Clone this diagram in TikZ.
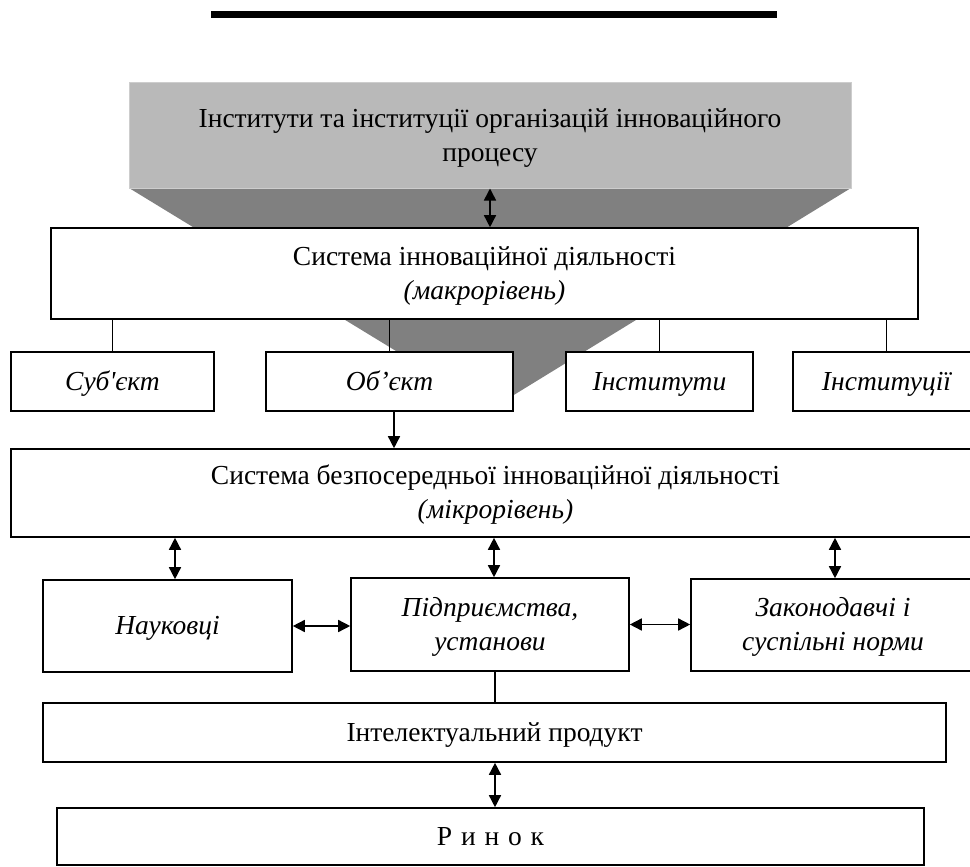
\documentclass[tikz,border=0pt]{standalone}
\usepackage{fontspec}
\newfontfamily\tnr{Liberation Serif}
\usetikzlibrary{arrows.meta,calc}
\definecolor{boxgray}{HTML}{B9B9B9}
\definecolor{boxedge}{HTML}{CDCDCD}
\definecolor{trigray}{HTML}{808080}
\newcommand{\sst}{\rule[-6pt]{0pt}{29pt}}
\begin{document}
\begin{tikzpicture}[x=1pt,y=-1pt,
  txt/.style={font=\tnr\fontsize{27.5}{34}\selectfont, align=center},
  bx/.style={txt, draw, line width=1.6pt, fill=white, inner sep=0pt},
  it/.style={font=\tnr\itshape\fontsize{27.5}{34}\selectfont},
  dbl/.style={{Triangle[length=12pt,width=12pt]}-{Triangle[length=12pt,width=12pt]}, line width=1.5pt},
  one/.style={-{Triangle[length=12pt,width=12pt]}, line width=1.5pt},
  ln/.style={line width=1.6pt}]
\clip (0,0) rectangle (970,867);
% top bar
\fill[black] (211,11) rectangle (777,18);
% funnel
\fill[trigray] (129,188) -- (851,188) -- (491,409) -- cycle;
\node[txt, fill=boxgray, draw=boxedge, line width=1pt, minimum width=722pt, minimum height=105pt, inner sep=0pt] (gray) at (490,135.5)
  {\sst Інститути та інституції організацій інноваційного\\\sst процесу};
% macro level
\node[bx, minimum width=867pt, minimum height=91pt] (sys) at (484.5,273.5)
  {\sst Система інноваційної діяльності\\\sst{\itshape (макрорівень)}};
\node[bx, it, minimum width=203pt, minimum height=59pt] (subj) at (112.5,381.5) {\sst Суб'єкт};
\node[bx, it, minimum width=247pt, minimum height=59pt] (obj) at (389.5,381.5) {\sst Об’єкт};
\node[bx, it, minimum width=187pt, minimum height=59pt] (inst) at (659.5,381.5) {\sst Інститути};
\node[bx, it, minimum width=187pt, minimum height=59pt] (instc) at (886.5,381.5) {\sst Інституції};
% micro level
\node[bx, minimum width=969pt, minimum height=88pt] (micro) at (495.5,493)
  {\sst Система безпосередньої інноваційної діяльності\\\sst{\itshape (мікрорівень)}};
\node[bx, it, minimum width=249pt, minimum height=92pt] (nauk) at (167.5,626) {\sst Науковці};
\node[bx, it, minimum width=278pt, minimum height=93pt] (pidpr) at (490,624.5) {\sst Підприємства,\\\sst установи};
\node[bx, it, minimum width=284pt, minimum height=92pt] (zakon) at (833,625) {\sst Законодавчі і\\\sst суспільні норми};
\node[bx, minimum width=903pt, minimum height=59pt] (intel) at (494.5,732.5) {\sst Інтелектуальний продукт};
\node[bx, minimum width=867pt, minimum height=57pt] (rynok) at (490.5,836.5) {\sst Р\hspace{0.32em}и\hspace{0.32em}н\hspace{0.32em}о\hspace{0.32em}к};
% connectors
\draw[dbl] (gray.south) -- (gray.south |- sys.north);
\foreach \n in {subj,obj,inst,instc}
  \draw[ln] (\n.north |- sys.south) -- (\n.north);
\coordinate (oa) at ($(obj.south)+(4.5,0)$);
\draw[one] (oa) -- (oa |- micro.north);
\coordinate (na) at ($(nauk.north)+(7.5,0)$);
\draw[dbl] (na |- micro.south) -- (na);
\coordinate (pa) at ($(pidpr.north)+(4,0)$);
\draw[dbl] (pa |- micro.south) -- (pa);
\coordinate (za) at ($(zakon.north)+(2,0)$);
\draw[dbl] (za |- micro.south) -- (za);
\draw[dbl] (nauk.east) -- (nauk.east -| pidpr.west);
\draw[dbl] (pidpr.east) -- (pidpr.east -| zakon.west);
\coordinate (pb) at ($(pidpr.south)+(5,0)$);
\draw[ln] (pb) -- (pb |- intel.north);
\coordinate (ib) at ($(intel.south)+(0.5,0)$);
\draw[dbl] (ib) -- (ib |- rynok.north);
\end{tikzpicture}
\end{document}
